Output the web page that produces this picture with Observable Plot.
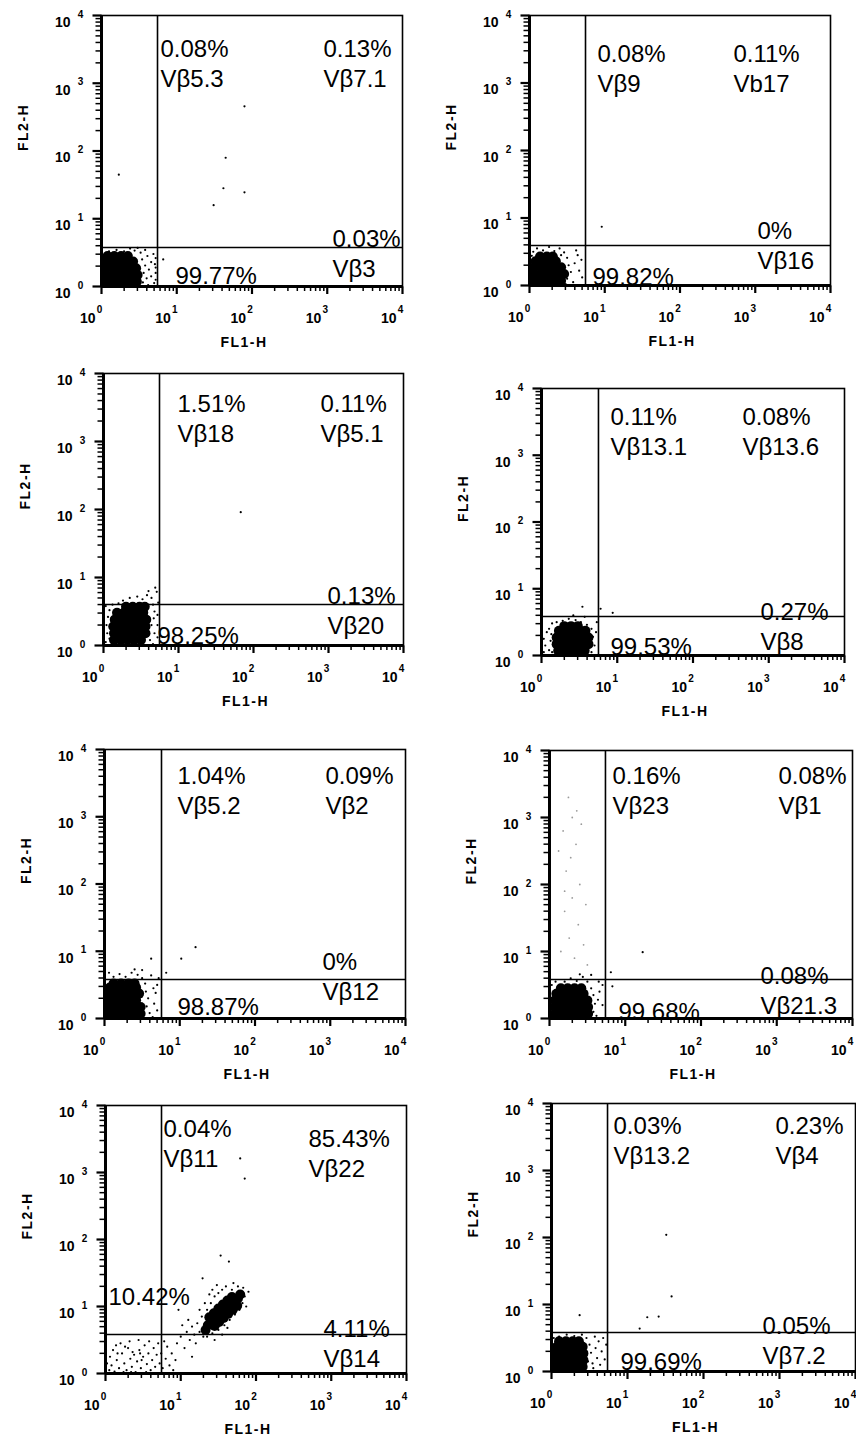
<!DOCTYPE html>
<html><head><meta charset="utf-8">
<script src="https://cdn.jsdelivr.net/npm/d3@7"></script>
<script src="https://cdn.jsdelivr.net/npm/@observablehq/plot@0.6"></script>
<style>
body{margin:0;background:#fff;}
#wrap{position:relative;width:856px;height:1440px;overflow:hidden;background:#fff;}
#wrap svg{position:absolute;}
</style></head><body><div id="wrap"></div>
<script>
// ---------- DATA ----------
const decades = [0, 1, 2, 3, 4];          // axis tick exponents
const tickBase = "10";
const axisXTitle = "FL1-H", axisYTitle = "FL2-H";
const gateX = [5.55, 5.55, 5.58, 5.65, 5.72, 5.48, 5.55, 5.46];
const gateY = [3.77, 3.91, 4.01, 3.84, 3.80, 3.82, 3.82, 3.82];
const ulPct  = ["0.08%","0.08%","1.51%","0.11%","1.04%","0.16%","0.04%","0.03%"];
const ulName = ["Vβ5.3","Vβ9","Vβ18","Vβ13.1","Vβ5.2","Vβ23","Vβ11","Vβ13.2"];
const urPct  = ["0.13%","0.11%","0.11%","0.08%","0.09%","0.08%","85.43%","0.23%"];
const urName = ["Vβ7.1","Vb17","Vβ5.1","Vβ13.6","Vβ2","Vβ1","Vβ22","Vβ4"];
const lrPct  = ["0.03%","0%","0.13%","0.27%","0%","0.08%","4.11%","0.05%"];
const lrName = ["Vβ3","Vβ16","Vβ20","Vβ8","Vβ12","Vβ21.3","Vβ14","Vβ7.2"];
const llPct  = ["99.77%","99.82%","98.25%","99.53%","98.87%","99.68%","10.42%","99.69%"];

// events, as [log10 FL1, log10 FL2]; "core" = densest part of each population
const p1Core = [[0.06,0.07],[0.15,0.07],[0.24,0.07],[0.33,0.07],[0.42,0.07],[0.47,0.07],[0.06,0.17],[0.15,0.17],[0.24,0.17],[0.33,0.17],[0.42,0.17],[0.48,0.17],[0.06,0.27],[0.15,0.27],[0.24,0.27],[0.33,0.27],[0.42,0.27],[0.46,0.27],[0.06,0.37],[0.15,0.37],[0.24,0.37],[0.33,0.37],[0.42,0.37],[0.08,0.45],[0.17,0.45],[0.26,0.45],[0.35,0.45]];
const p1Dots = [[0.55,0.06],[0.60,0.12],[0.56,0.20],[0.63,0.25],[0.58,0.31],[0.66,0.36],[0.54,0.40],[0.61,0.45],[0.70,0.05],[0.72,0.20],[0.71,0.33],[0.69,0.48],[0.52,0.50],[0.44,0.53],[0.30,0.52],[0.20,0.54],[0.10,0.52],[0.38,0.56],[0.48,0.57],[0.58,0.54],[0.66,0.15],[0.62,0.02],[0.72,0.10],[0.72,0.28],[0.72,0.42],[0.23,1.65],[0.82,0.40],[1.49,1.20],[1.62,1.45],[1.65,1.90],[1.90,1.39],[1.90,2.66]];
const p2Core = [[0.06,0.07],[0.15,0.07],[0.24,0.07],[0.33,0.07],[0.42,0.07],[0.06,0.17],[0.15,0.17],[0.24,0.17],[0.33,0.17],[0.42,0.17],[0.46,0.17],[0.06,0.27],[0.15,0.27],[0.24,0.27],[0.33,0.27],[0.42,0.27],[0.08,0.36],[0.17,0.36],[0.26,0.36],[0.35,0.36],[0.14,0.43],[0.23,0.43],[0.31,0.43]];
const p2Dots = [[0.05,0.50],[0.10,0.55],[0.18,0.52],[0.26,0.57],[0.33,0.51],[0.40,0.55],[0.46,0.49],[0.50,0.41],[0.52,0.30],[0.55,0.20],[0.50,0.10],[0.58,0.05],[0.60,0.33],[0.64,0.45],[0.66,0.22],[0.70,0.12],[0.69,0.38],[0.62,0.52],[0.03,0.44],[0.48,0.02],[0.42,0.45],[0.96,0.87]];
const p3Core = [[0.14,0.08],[0.23,0.08],[0.32,0.08],[0.41,0.08],[0.50,0.08],[0.14,0.18],[0.23,0.18],[0.32,0.18],[0.41,0.18],[0.50,0.18],[0.56,0.18],[0.13,0.28],[0.22,0.28],[0.31,0.28],[0.40,0.28],[0.49,0.28],[0.56,0.28],[0.15,0.38],[0.24,0.38],[0.33,0.38],[0.42,0.38],[0.51,0.38],[0.57,0.38],[0.18,0.48],[0.27,0.48],[0.36,0.48],[0.45,0.48],[0.53,0.48],[0.30,0.57],[0.39,0.57],[0.48,0.57],[0.55,0.57]];
const p3Dots = [[0.03,0.05],[0.05,0.18],[0.04,0.30],[0.06,0.42],[0.08,0.52],[0.03,0.58],[0.12,0.60],[0.20,0.62],[0.26,0.66],[0.35,0.70],[0.45,0.72],[0.52,0.68],[0.58,0.74],[0.64,0.70],[0.66,0.60],[0.68,0.50],[0.67,0.40],[0.64,0.30],[0.68,0.18],[0.62,0.08],[0.66,0.02],[0.69,0.85],[0.71,0.79],[0.73,0.63],[0.72,0.45],[0.72,0.30],[0.72,0.12],[0.60,0.80],[0.08,0.10],[0.09,0.30],[1.83,1.96]];
const p4Core = [[0.22,0.07],[0.31,0.07],[0.40,0.07],[0.49,0.07],[0.57,0.07],[0.20,0.17],[0.29,0.17],[0.38,0.17],[0.47,0.17],[0.56,0.17],[0.62,0.17],[0.20,0.27],[0.29,0.27],[0.38,0.27],[0.47,0.27],[0.56,0.27],[0.62,0.27],[0.23,0.37],[0.32,0.37],[0.41,0.37],[0.50,0.37],[0.58,0.37],[0.30,0.44],[0.39,0.44],[0.48,0.44]];
const p4Dots = [[0.03,0.05],[0.05,0.15],[0.03,0.25],[0.07,0.35],[0.10,0.08],[0.12,0.22],[0.10,0.40],[0.14,0.48],[0.20,0.50],[0.28,0.52],[0.36,0.55],[0.45,0.53],[0.52,0.50],[0.60,0.46],[0.66,0.40],[0.68,0.28],[0.70,0.15],[0.66,0.05],[0.72,0.35],[0.73,0.50],[0.57,0.58],[0.42,0.60],[0.54,0.73],[0.78,0.70],[0.94,0.64],[0.14,0.05],[0.13,0.32]];
const p5Core = [[0.06,0.07],[0.15,0.07],[0.24,0.07],[0.33,0.07],[0.42,0.07],[0.48,0.07],[0.06,0.17],[0.15,0.17],[0.24,0.17],[0.33,0.17],[0.42,0.17],[0.48,0.17],[0.06,0.27],[0.15,0.27],[0.24,0.27],[0.33,0.27],[0.42,0.27],[0.06,0.37],[0.15,0.37],[0.24,0.37],[0.33,0.37],[0.42,0.37],[0.46,0.37],[0.07,0.46],[0.16,0.46],[0.25,0.46],[0.34,0.46],[0.42,0.46],[0.12,0.52],[0.22,0.52],[0.32,0.52],[0.40,0.52]];
const p5Dots = [[0.12,0.62],[0.20,0.66],[0.28,0.62],[0.36,0.68],[0.44,0.65],[0.50,0.60],[0.54,0.52],[0.55,0.40],[0.58,0.30],[0.56,0.18],[0.60,0.08],[0.64,0.02],[0.66,0.22],[0.68,0.38],[0.70,0.50],[0.72,0.60],[0.62,0.64],[0.50,0.72],[0.06,0.68],[0.40,0.73],[0.70,0.12],[0.65,0.45],[0.62,0.89],[0.82,0.68],[1.02,0.89],[1.21,1.06]];
const p6Core = [[0.07,0.07],[0.16,0.07],[0.25,0.07],[0.34,0.07],[0.43,0.07],[0.51,0.07],[0.07,0.17],[0.16,0.17],[0.25,0.17],[0.34,0.17],[0.43,0.17],[0.51,0.17],[0.07,0.27],[0.16,0.27],[0.25,0.27],[0.34,0.27],[0.43,0.27],[0.50,0.27],[0.09,0.37],[0.18,0.37],[0.27,0.37],[0.36,0.37],[0.45,0.37],[0.15,0.45],[0.24,0.45],[0.33,0.45],[0.42,0.45]];
const p6Dots = [[0.03,0.50],[0.08,0.55],[0.20,0.55],[0.28,0.60],[0.36,0.56],[0.44,0.62],[0.50,0.55],[0.55,0.45],[0.58,0.35],[0.60,0.22],[0.58,0.10],[0.62,0.04],[0.64,0.28],[0.66,0.40],[0.65,0.55],[0.55,0.65],[0.40,0.66],[0.70,0.50],[0.70,0.20],[1.23,0.99],[0.81,0.69],[0.83,0.48]];
const p6Faint = [[0.25,3.3],[0.30,3.0],[0.18,2.8],[0.35,2.6],[0.28,2.4],[0.22,2.2],[0.40,2.0],[0.30,1.8],[0.20,1.6],[0.38,1.4],[0.26,1.2],[0.45,1.1],[0.15,1.0],[0.33,0.9],[0.50,0.8],[0.42,2.9],[0.12,2.5],[0.48,1.7],[0.36,3.1],[0.20,1.9]];
const p7Core = [[1.36,0.72],[1.42,0.76],[1.47,0.82],[1.53,0.88],[1.58,0.94],[1.64,1.00],[1.70,1.06],[1.76,1.12],[1.38,0.84],[1.44,0.90],[1.50,0.97],[1.56,1.03],[1.62,1.09],[1.68,1.14],[1.45,0.71],[1.51,0.77],[1.57,0.83],[1.63,0.89],[1.69,0.95],[1.75,1.01],[1.33,0.65],[1.79,1.18]];
const p7Dots = [[0.05,0.05],[0.08,0.12],[0.12,0.03],[0.15,0.20],[0.18,0.08],[0.22,0.30],[0.25,0.15],[0.28,0.05],[0.30,0.38],[0.33,0.22],[0.35,0.10],[0.38,0.28],[0.40,0.02],[0.42,0.18],[0.45,0.35],[0.47,0.08],[0.50,0.25],[0.52,0.42],[0.55,0.14],[0.57,0.30],[0.60,0.05],[0.62,0.20],[0.64,0.38],[0.66,0.10],[0.68,0.28],[0.70,0.45],[0.72,0.15],[0.10,0.35],[0.06,0.25],[0.20,0.45],[0.32,0.48],[0.44,0.50],[0.58,0.48],[0.26,0.40],[0.14,0.42],[0.36,0.32],[0.48,0.20],[0.54,0.02],[0.02,0.15],[0.16,0.30],[0.24,0.02],[0.74,0.30],[0.76,0.08],[0.80,0.22],[0.82,0.40],[0.85,0.12],[0.88,0.30],[0.90,0.05],[0.93,0.20],[0.78,0.48],[0.34,0.02],[0.46,0.30],
  [0.95,0.45],[1.00,0.55],[1.05,0.38],[1.08,0.62],[1.12,0.50],[1.15,0.70],[1.18,0.58],[1.20,0.45],[1.22,0.75],[1.25,0.62],[1.10,0.80],[1.02,0.72],[0.97,0.95],[1.15,0.25],[1.30,0.55],[1.28,0.85],
  [1.35,0.95],[1.40,1.05],[1.45,1.15],[1.50,1.20],[1.55,1.25],[1.60,1.30],[1.48,1.32],[1.42,1.25],[1.35,0.55],[1.42,0.60],[1.50,0.65],[1.58,0.72],[1.65,0.80],[1.72,0.88],[1.78,0.95],[1.82,1.05],[1.85,1.15],[1.83,1.28],[1.76,1.30],[1.68,1.25],[1.62,0.68],[1.55,0.58],[1.32,1.05],[1.38,1.18],[1.70,1.35],[1.87,1.00],[1.30,0.65],[1.45,0.50],[1.25,0.95],[1.90,1.22],
  [1.53,1.76],[1.64,1.67],[1.29,1.42],[1.79,3.21],[1.85,2.91]];
const p8Core = [[0.06,0.07],[0.15,0.07],[0.24,0.07],[0.33,0.07],[0.41,0.07],[0.06,0.17],[0.15,0.17],[0.24,0.17],[0.33,0.17],[0.42,0.17],[0.06,0.27],[0.15,0.27],[0.24,0.27],[0.33,0.27],[0.42,0.27],[0.07,0.37],[0.16,0.37],[0.25,0.37],[0.34,0.37],[0.41,0.37],[0.10,0.45],[0.19,0.45],[0.28,0.45],[0.36,0.45]];
const p8Dots = [[0.46,0.50],[0.50,0.40],[0.52,0.28],[0.48,0.15],[0.55,0.05],[0.58,0.35],[0.60,0.20],[0.62,0.45],[0.64,0.10],[0.66,0.30],[0.68,0.50],[0.70,0.18],[0.72,0.40],[0.57,0.52],[0.40,0.55],[0.30,0.53],[0.20,0.55],[0.10,0.52],[0.03,0.50],[0.54,0.12],[0.44,0.02],[0.37,0.84],[1.16,0.64],[1.26,0.81],[1.41,0.82],[1.58,1.12],[1.51,2.04]];

const coreSets  = [p1Core, p2Core, p3Core, p4Core, p5Core, p6Core, p7Core, p8Core];
const dotSets   = [p1Dots, p2Dots, p3Dots, p4Dots, p5Dots, p6Dots, p7Dots, p8Dots];
const faintSets = [[], [], [], [], [], p6Faint, [], []];

// ---------- LAYOUT (pixel frame of each panel and label anchors, in log10 units) ----------
const frames = [[101,402,15,286],[529,830,15,285],[103,403,373,645],[541,844,388,655],[104,405,749,1018],[549,852,750,1018],[105,406,1105,1373],[551,855,1103,1371]];
const ulAt = [[0.784,3.705],[0.904,3.63],[0.987,3.75],[0.911,3.775],[0.97,3.807],[0.832,3.82],[0.771,3.851],[0.816,3.866]];
const urAt = [[2.95,3.705],[2.71,3.63],[2.893,3.75],[2.653,3.775],[2.937,3.807],[3.023,3.82],[2.698,3.70],[2.947,3.866]];
const lrAt = [[3.07,0.90],[3.03,1.007],[2.987,0.926],[2.891,0.854],[2.897,1.041],[2.785,0.836],[2.897,0.866],[2.776,0.881]];
const llAt = [[0.983,0.354],[0.837,0.326],[0.72,0.338],[0.911,0.33],[0.97,0.372],[0.911,0.299],[0.04,1.343],[0.908,0.343]];

const mL = 95, mR = 6, mT = 14, mB = 70;
const FONT = "Liberation Sans, Arial, sans-serif";
const majors = decades.map(d => 10 ** d);
const minors = d3.range(0, 4).flatMap(d => d3.range(2, 10).map(k => k * 10 ** d));
const X = d => 10 ** d[0], Y = d => 10 ** d[1];

function panel(i) {
  const [L, R, T, B] = frames[i];
  const pxDecX = (R - L) / 4, pxDecY = (B - T) / 4;
  // value that lies `px` pixels outside the low end of the axis (tick length)
  const outX = px => 10 ** (-px / pxDecX), outY = px => 10 ** (-px / pxDecY);
  const lab = (txt, at) => Plot.text([txt], {x: () => 10 ** at[0], y: () => 10 ** at[1], text: d => d,
    textAnchor: "start", lineAnchor: "top", lineHeight: 1.25, fontSize: 24, fontFamily: FONT, fill: "#000"});
  const svg = Plot.plot({
    width: (R - L) + mL + mR, height: (B - T) + mT + mB,
    marginLeft: mL, marginRight: mR, marginTop: mT, marginBottom: mB,
    x: {type: "log", domain: [1, 1e4], axis: null},
    y: {type: "log", domain: [1, 1e4], axis: null},
    style: {background: "transparent", overflow: "visible"},
    marks: [
      // tick marks
      Plot.link(minors, {x1: d => d, x2: d => d, y1: () => outY(4.5), y2: () => 1, stroke: "#000", strokeWidth: 1.5}),
      Plot.link(majors, {x1: d => d, x2: d => d, y1: () => outY(7.5), y2: () => 1, stroke: "#000", strokeWidth: 2.2}),
      Plot.link(minors, {y1: d => d, y2: d => d, x1: () => outX(6), x2: () => 1, stroke: "#000", strokeWidth: 1.5}),
      Plot.link(majors, {y1: d => d, y2: d => d, x1: () => outX(9), x2: () => 1, stroke: "#000", strokeWidth: 2.2}),
      Plot.dot(faintSets[i], {x: X, y: Y, r: 0.9, fill: "#9a9a9a"}),
      Plot.dot(coreSets[i], {x: X, y: Y, r: 5, fill: "#000"}),
      Plot.dot(dotSets[i], {x: X, y: Y, r: 1.1, fill: "#000"}),
      Plot.ruleX([gateX[i]], {stroke: "#000", strokeWidth: 1.6}),
      Plot.ruleY([gateY[i]], {stroke: "#000", strokeWidth: 1.6}),
      Plot.frame({stroke: "#000", strokeWidth: 1.6}),
      Plot.ruleX([1], {stroke: "#000", strokeWidth: 3}),
      Plot.ruleY([1], {stroke: "#000", strokeWidth: 3}),
      // tick labels 10^k
      Plot.text(decades, {x: d => 10 ** d, y: () => 1, text: () => tickBase, textAnchor: "end", lineAnchor: "middle", dx: -6, dy: 32, fontSize: 14, fontWeight: "bold", fontFamily: FONT}),
      Plot.text(decades, {x: d => 10 ** d, y: () => 1, text: d => String(d), textAnchor: "middle", lineAnchor: "middle", dx: -2, dy: 23, fontSize: 10, fontWeight: "bold", fontFamily: FONT}),
      Plot.text(decades, {x: () => 1, y: d => 10 ** d, text: () => tickBase, textAnchor: "end", lineAnchor: "middle", dx: -31, dy: 7, fontSize: 14, fontWeight: "bold", fontFamily: FONT}),
      Plot.text(decades, {x: () => 1, y: d => 10 ** d, text: d => String(d), textAnchor: "middle", lineAnchor: "middle", dx: -21, dy: -1, fontSize: 10, fontWeight: "bold", fontFamily: FONT}),
      // quadrant statistics
      lab(ulPct[i] + "\n" + ulName[i], ulAt[i]),
      lab(urPct[i] + "\n" + urName[i], urAt[i]),
      lab(lrPct[i] + "\n" + lrName[i], lrAt[i]),
      lab(llPct[i], llAt[i]),
      // axis titles
      Plot.text([axisXTitle], {frameAnchor: "bottom", text: d => d, dx: -8, dy: 56, lineAnchor: "middle", fontSize: 14, fontWeight: "bold", fontFamily: FONT}),
      Plot.text([axisYTitle], {frameAnchor: "left", text: d => d, dx: -78, rotate: -90, lineAnchor: "middle", fontSize: 14, fontWeight: "bold", fontFamily: FONT})
    ]
  });
  svg.querySelectorAll("text").forEach(t => {
    if (t.textContent === axisXTitle || t.textContent === axisYTitle) t.setAttribute("letter-spacing", "1.5");
  });
  svg.style.left = (L - mL) + "px";
  svg.style.top = (T - mT) + "px";
  return svg;
}
const wrap = document.getElementById("wrap");
for (let i = 0; i < 8; i++) wrap.appendChild(panel(i));
</script></body></html>
